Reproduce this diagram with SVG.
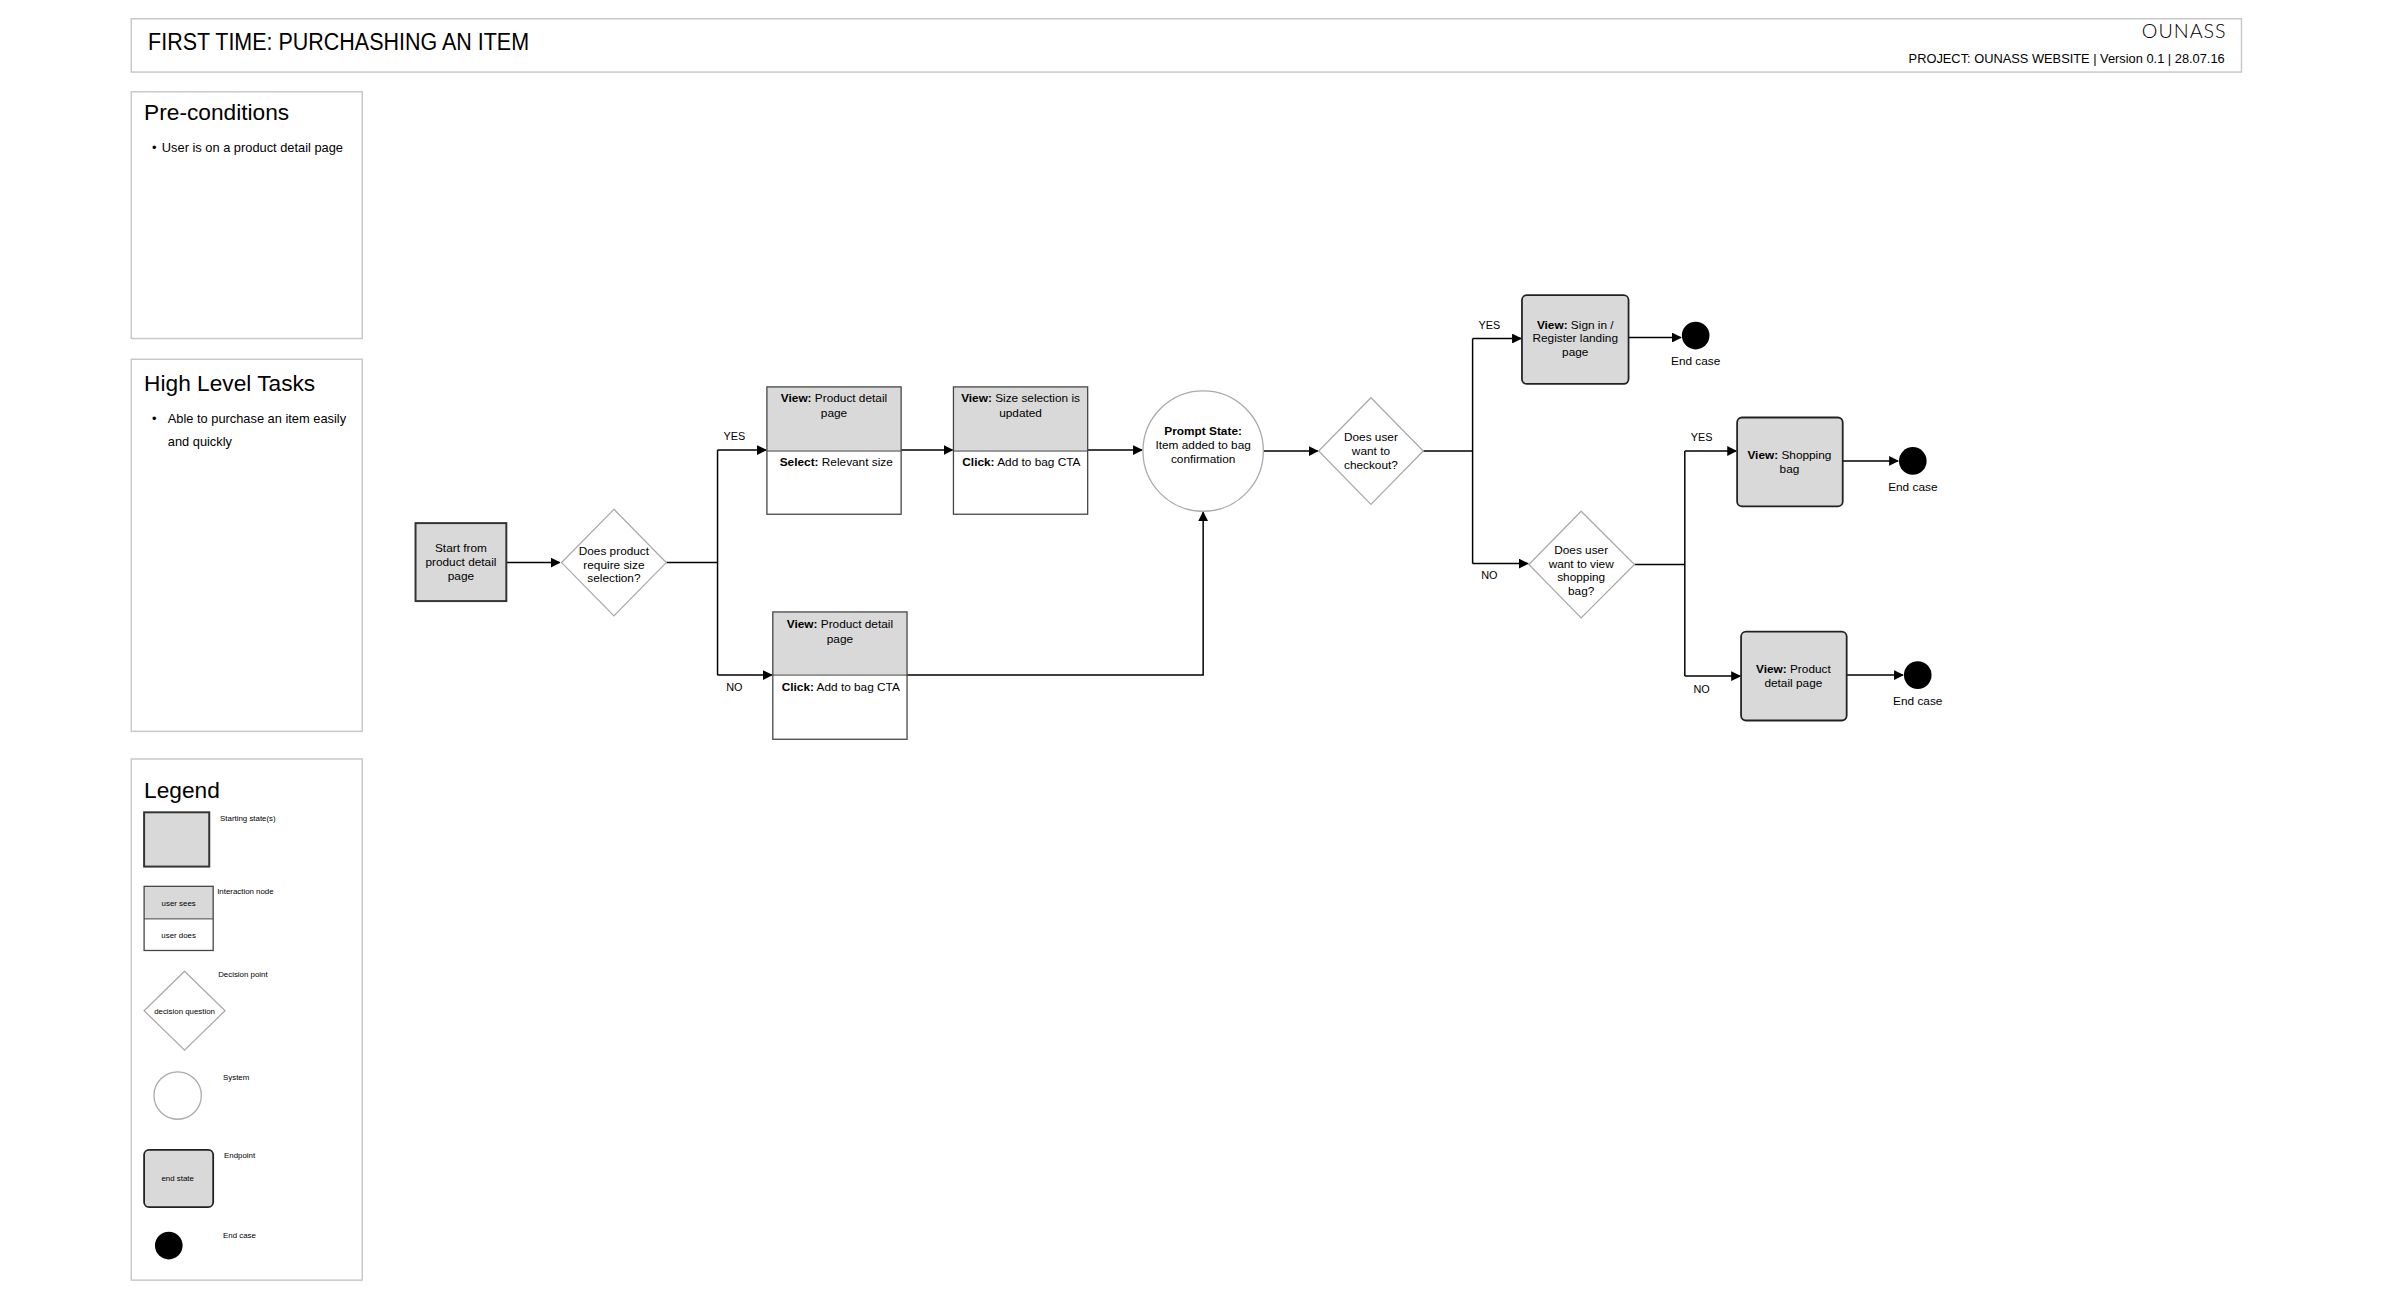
<svg xmlns="http://www.w3.org/2000/svg" width="2400" height="1300" viewBox="0 0 2400 1300">
<style>
text{font-family:"Liberation Sans",Arial,sans-serif;fill:#000}
.t{font-size:12px;text-anchor:middle}
.s{font-size:8px}
.lb{font-size:11px;text-anchor:middle}
.panel{fill:#fff;stroke:#c8c8c8;stroke-width:1.5}
.grey{fill:#d9d9d9}
.box{fill:none;stroke:#444;stroke-width:1.3}
.start{fill:#d9d9d9;stroke:#333;stroke-width:2}
.end{fill:#d9d9d9;stroke:#222;stroke-width:1.8}
.dia{fill:#fff;stroke:#aaa;stroke-width:1.3}
.sys{fill:#fff;stroke:#aaa;stroke-width:1.3}
.ln{fill:none;stroke:#000;stroke-width:1.5}
.h{font-size:23px}
.b{font-weight:bold}
</style>
<defs><marker id="a" markerWidth="10" markerHeight="10" refX="9" refY="5" orient="auto" markerUnits="userSpaceOnUse"><path d="M0,0L10,5L0,10z" fill="#000"/></marker></defs>
<rect width="2400" height="1300" fill="#fff"/>
<g transform="scale(0.987)">
<g id="header"><rect class="panel" x="133" y="19" width="2138" height="54"/>
<text x="150" y="51" font-size="24" textLength="386" lengthAdjust="spacingAndGlyphs">FIRST TIME: PURCHASHING AN ITEM</text>
<text x="2256" y="38" font-size="20" text-anchor="end" style="font-family:Lato,'Liberation Sans',sans-serif;font-weight:300;letter-spacing:1px">OUNASS</text>
<text x="2254" y="64" font-size="13" text-anchor="end">PROJECT: OUNASS WEBSITE  |  Version 0.1  |  28.07.16</text></g>
<g id="preconditions"><rect class="panel" x="133" y="93" width="234" height="250"/>
<text x="146" y="122" class="h">Pre-conditions</text>
<text x="154" y="154" font-size="13">•</text><text x="164" y="154" font-size="13">User is on a product detail page</text></g>
<g id="tasks"><rect class="panel" x="133" y="364" width="234" height="377"/>
<text x="146" y="396" class="h">High Level Tasks</text>
<text x="154" y="429" font-size="13">•</text><text x="170" y="429" font-size="13">Able to purchase an item easily</text>
<text x="170" y="452" font-size="13">and quickly</text></g>
<g id="legend"><rect class="panel" x="133" y="769" width="234" height="528"/>
<text x="146" y="809" class="h">Legend</text>
<rect class="start" x="146" y="823" width="66" height="55"/><text class="s" x="223" y="832">Starting state(s)</text>
<rect class="grey" x="146" y="898" width="70" height="33"/><rect class="box" x="146" y="898" width="70" height="65"/><line x1="146" y1="931" x2="216" y2="931" stroke="#444"/>
<text class="s" x="181" y="918" text-anchor="middle">user sees</text><text class="s" x="181" y="950" text-anchor="middle">user does</text><text class="s" x="220" y="906">Interaction node</text>
<polygon class="dia" points="187,984 228,1024 187,1064 146,1024"/><text class="s" x="187" y="1027" text-anchor="middle">decision question</text><text class="s" x="221" y="990">Decision point</text>
<circle class="sys" cx="180" cy="1110" r="24"/><text class="s" x="226" y="1094">System</text>
<rect class="end" x="146" y="1165" width="70" height="58" rx="5"/><text class="s" x="180" y="1197" text-anchor="middle">end state</text><text class="s" x="227" y="1173">Endpoint</text>
<circle cx="171" cy="1262" r="14"/><text class="s" x="226" y="1254">End case</text></g>

<g id="connectors">
<line class="ln" x1="513" y1="570" x2="567" y2="570" marker-end="url(#a)"/>
<polyline class="ln" points="675,570 727,570"/>
<polyline class="ln" points="727,684 727,456"/>
<line class="ln" x1="727" y1="456" x2="776" y2="456" marker-end="url(#a)"/>
<line class="ln" x1="727" y1="684" x2="782" y2="684" marker-end="url(#a)"/>
<line class="ln" x1="913" y1="456" x2="965" y2="456" marker-end="url(#a)"/>
<line class="ln" x1="1102" y1="456" x2="1157" y2="456" marker-end="url(#a)"/>
<polyline class="ln" points="919,684 1219,684 1219,519" marker-end="url(#a)"/>
<line class="ln" x1="1280" y1="457" x2="1335" y2="457" marker-end="url(#a)"/>
<polyline class="ln" points="1442,457 1492,457"/>
<polyline class="ln" points="1492,343 1492,571"/>
<line class="ln" x1="1492" y1="343" x2="1541" y2="343" marker-end="url(#a)"/>
<line class="ln" x1="1492" y1="571" x2="1548" y2="571" marker-end="url(#a)"/>
<line class="ln" x1="1650" y1="342" x2="1703" y2="342" marker-end="url(#a)"/>
<polyline class="ln" points="1656,572 1707,572"/>
<polyline class="ln" points="1707,457 1707,685"/>
<line class="ln" x1="1707" y1="457" x2="1759" y2="457" marker-end="url(#a)"/>
<line class="ln" x1="1707" y1="685" x2="1763" y2="685" marker-end="url(#a)"/>
<line class="ln" x1="1867" y1="467" x2="1923" y2="467" marker-end="url(#a)"/>
<line class="ln" x1="1871" y1="684" x2="1928" y2="684" marker-end="url(#a)"/>
<text class="lb" x="744" y="446">YES</text><text class="lb" x="744" y="700">NO</text>
<text class="lb" x="1509" y="333">YES</text><text class="lb" x="1509" y="587">NO</text>
<text class="lb" x="1724" y="447">YES</text><text class="lb" x="1724" y="702">NO</text>
</g>

<g id="start"><rect class="start" x="421" y="530" width="92" height="79"/>
<text class="t" x="467" y="559">Start from</text><text class="t" x="467" y="573">product detail</text><text class="t" x="467" y="588">page</text></g>
<g id="d1"><polygon class="dia" points="622,516 675,570 622,624 569,570"/>
<text class="t" x="622" y="562">Does product</text><text class="t" x="622" y="576">require size</text><text class="t" x="622" y="590">selection?</text></g>
<g id="n1"><rect class="grey" x="777" y="392" width="136" height="65"/><rect class="box" x="777" y="392" width="136" height="129"/><line x1="777" y1="457" x2="913" y2="457" stroke="#444"/>
<text class="t" x="845" y="407"><tspan class="b">View:</tspan> Product detail</text><text class="t" x="845" y="422">page</text>
<text x="790" y="472" font-size="12"><tspan class="b">Select:</tspan> Relevant size</text></g>
<g id="n2"><rect class="grey" x="966" y="392" width="136" height="65"/><rect class="box" x="966" y="392" width="136" height="129"/><line x1="966" y1="457" x2="1102" y2="457" stroke="#444"/>
<text class="t" x="1034" y="407"><tspan class="b">View:</tspan> Size selection is</text><text class="t" x="1034" y="422">updated</text>
<text x="975" y="472" font-size="12"><tspan class="b">Click:</tspan> Add to bag CTA</text></g>
<g id="n3"><rect class="grey" x="783" y="620" width="136" height="64"/><rect class="box" x="783" y="620" width="136" height="129"/><line x1="783" y1="684" x2="919" y2="684" stroke="#444"/>
<text class="t" x="851" y="636"><tspan class="b">View:</tspan> Product detail</text><text class="t" x="851" y="651">page</text>
<text x="792" y="700" font-size="12"><tspan class="b">Click:</tspan> Add to bag CTA</text></g>
<g id="prompt"><circle class="sys" cx="1219" cy="457" r="61"/>
<text class="t b" x="1219" y="441">Prompt State:</text><text class="t" x="1219" y="455">Item added to bag</text><text class="t" x="1219" y="469">confirmation</text></g>
<g id="d2"><polygon class="dia" points="1389,403 1442,457 1389,511 1336,457"/>
<text class="t" x="1389" y="447">Does user</text><text class="t" x="1389" y="461">want to</text><text class="t" x="1389" y="475">checkout?</text></g>
<g id="signin"><rect class="end" x="1542" y="299" width="108" height="90" rx="5"/>
<text class="t" x="1596" y="333"><tspan class="b">View:</tspan> Sign in /</text><text class="t" x="1596" y="347">Register landing</text><text class="t" x="1596" y="361">page</text></g>
<g id="e1"><circle cx="1718" cy="340" r="14"/><text class="t" x="1718" y="370" font-size="11">End case</text></g>
<g id="d3"><polygon class="dia" points="1602,518 1656,572 1602,626 1549,572"/>
<text class="t" x="1602" y="561">Does user</text><text class="t" x="1602" y="575">want to view</text><text class="t" x="1602" y="589">shopping</text><text class="t" x="1602" y="603">bag?</text></g>
<g id="bag"><rect class="end" x="1760" y="423" width="107" height="90" rx="5"/>
<text class="t" x="1813" y="465"><tspan class="b">View:</tspan> Shopping</text><text class="t" x="1813" y="479">bag</text></g>
<g id="e2"><circle cx="1938" cy="467" r="14"/><text class="t" x="1938" y="497" font-size="11">End case</text></g>
<g id="pdp"><rect class="end" x="1764" y="640" width="107" height="90" rx="5"/>
<text class="t" x="1817" y="682"><tspan class="b">View:</tspan> Product</text><text class="t" x="1817" y="696">detail page</text></g>
<g id="e3"><circle cx="1943" cy="684" r="14"/><text class="t" x="1943" y="714" font-size="11">End case</text></g>
</g>
</svg>
